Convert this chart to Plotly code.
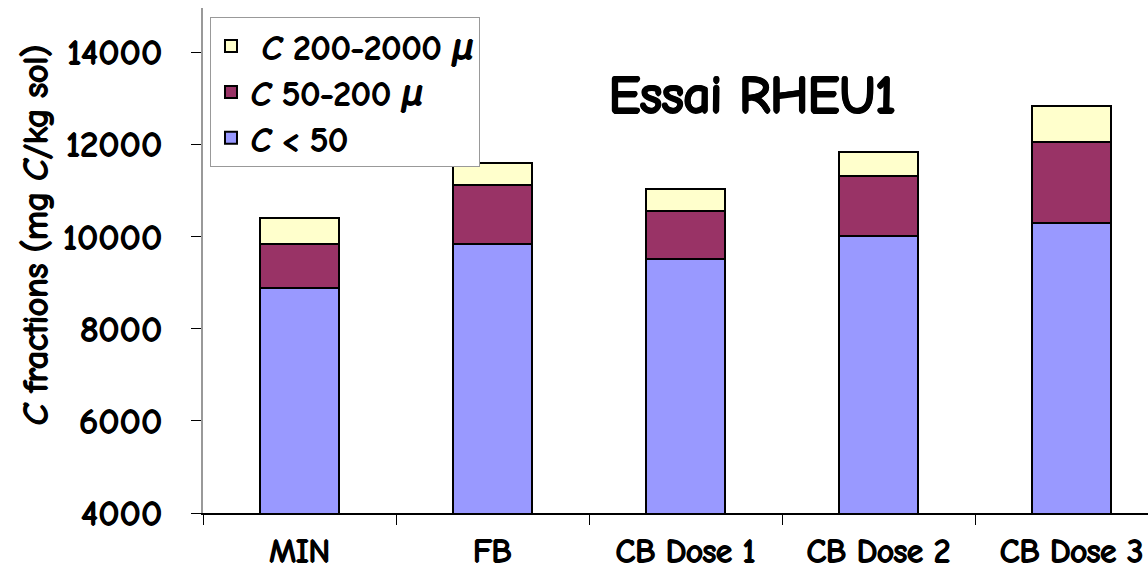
import plotly.graph_objects as go

categories = ["MIN", "FB", "CB Dose 1", "CB Dose 2", "CB Dose 3"]
c_lt50 = [8890, 9830, 9500, 10000, 10300]
c_50_200 = [940, 1280, 1050, 1320, 1750]
c_200_2000 = [560, 480, 470, 510, 770]
series_names = ["<i>C</i> &lt; 50", "<i>C</i> 50-200 <i>μ</i>", " <i>C</i> 200-2000 <i>μ</i>"]
colors = ["#9999FF", "#993366", "#FFFFCC"]
y_ticks = [4000, 6000, 8000, 10000, 12000, 14000]

FONT = "Comic Sans MS, Comic Neue, DejaVu Sans, sans-serif"
BOLD = "1px 0px 0px #000, -1px 0px 0px #000, 0px 1px 0px #000, 0px -1px 0px #000"
BOLD_BIG = ("1.5px 0px 0px #000, -1.5px 0px 0px #000, 0px 1.5px 0px #000, 0px -1.5px 0px #000, "
            "1px 1px 0px #000, -1px -1px 0px #000, 1px -1px 0px #000, -1px 1px 0px #000")

fig = go.Figure()
for name, vals, col in zip(series_names, [c_lt50, c_50_200, c_200_2000], colors):
    fig.add_trace(go.Bar(
        x=categories, y=vals, name=name,
        marker=dict(color=col, line=dict(color="black", width=2)),
        width=0.405,
    ))

fig.update_layout(
    barmode="stack",
    width=1148, height=570,
    margin=dict(l=203, r=0, t=8, b=57, autoexpand=False),
    plot_bgcolor="white", paper_bgcolor="white",
    font=dict(family=FONT, size=24, color="black"),
    showlegend=True,
    legend=dict(
        x=0.0074, y=0.982, xanchor="left", yanchor="top",
        traceorder="reversed",
        bordercolor="#999999", borderwidth=1,
        font=dict(family=FONT, size=33, color="black", shadow=BOLD),
        bgcolor="white",
    ),
    annotations=[
        dict(text="Essai RHEU1", x=0.581, y=0.828, xref="paper", yref="paper",
             xanchor="center", yanchor="middle",
             showarrow=False, font=dict(family=FONT, size=52, color="black", shadow=BOLD_BIG)),
        dict(text="<i>C</i> fractions (mg <i>C</i>/kg sol)", x=-0.1778, y=0.55,
             xref="paper", yref="paper", xanchor="center", yanchor="middle",
             textangle=-90, showarrow=False,
             font=dict(family=FONT, size=35, color="black", shadow=BOLD)),
    ],
)

fig.update_xaxes(
    range=[-0.5, 4.396], automargin=False,
    showline=True, linecolor="black", linewidth=1.5,
    ticks="outside", ticklen=10, tickcolor="black", tickson="boundaries",
    tickfont=dict(family=FONT, size=32, color="black", shadow=BOLD),
    ticklabelstandoff=9,
    showgrid=False, zeroline=False,
)
fig.update_yaxes(
    range=[4000, 14955], automargin=False,
    tickvals=y_ticks, ticktext=[str(v) for v in y_ticks],
    showline=True, linecolor="#999999", linewidth=1.5,
    ticks="outside", ticklen=10, tickcolor="black",
    tickfont=dict(family=FONT, size=35, color="black", shadow=BOLD),
    ticklabelstandoff=22,
    showgrid=False, zeroline=False,
)

fig.write_html("out.html")
